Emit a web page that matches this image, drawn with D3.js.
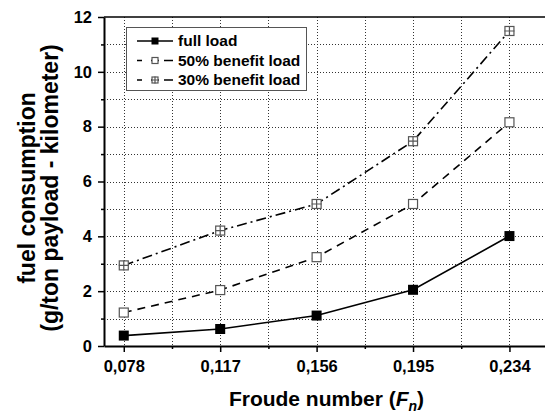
<!DOCTYPE html>
<html>
<head>
<meta charset="utf-8">
<script src="https://cdn.jsdelivr.net/npm/d3@7"></script>
<style>
  body { margin: 0; background: #fff; }
  text { font-family: "Liberation Sans", Arial, sans-serif; font-weight: bold; }
</style>
</head>
<body>
<div id="chart"></div>
<script>
// data
var froude = [0.078, 0.117, 0.156, 0.195, 0.234];
var xTickLabels = ["0,078", "0,117", "0,156", "0,195", "0,234"];
var xMinorTicks = [0.0975, 0.1365, 0.1755, 0.2145];
var yTicks = [0, 2, 4, 6, 8, 10, 12];
var yMinorTicks = [1, 3, 5, 7, 9, 11];
var fullLoad = [0.38, 0.62, 1.11, 2.05, 4.01];
var benefit50 = [1.22, 2.04, 3.24, 5.18, 8.16];
var benefit30 = [2.94, 4.21, 5.18, 7.47, 11.49];
var seriesNames = ["full load", "50% benefit load", "30% benefit load"];

var width = 545, height = 413;
var plotLeft = 104, plotRight = 549, plotTop = 17, plotBottom = 346;

var svg = d3.select("#chart").append("svg")
    .attr("width", width)
    .attr("height", height);

var x = d3.scaleLinear().domain([0.07, 0.25]).range([plotLeft, plotRight]);
var y = d3.scaleLinear().domain([0, 12]).range([plotBottom, plotTop]);

// dotted grid
var grid = svg.append("g")
    .attr("stroke", "#333")
    .attr("stroke-width", 1)
    .attr("stroke-dasharray", "1,2");
grid.selectAll(".vg")
    .data(froude.concat(xMinorTicks))
    .enter().append("line")
    .attr("x1", function (d) { return Math.round(x(d)) + 0.5; })
    .attr("x2", function (d) { return Math.round(x(d)) + 0.5; })
    .attr("y1", plotTop)
    .attr("y2", plotBottom);
grid.selectAll(".hg")
    .data(d3.range(1, 12))
    .enter().append("line")
    .attr("x1", plotLeft)
    .attr("x2", plotRight)
    .attr("y1", function (d) { return Math.round(y(d)) + 0.5; })
    .attr("y2", function (d) { return Math.round(y(d)) + 0.5; });

// top frame
svg.append("line")
    .attr("x1", plotLeft).attr("x2", plotRight)
    .attr("y1", plotTop).attr("y2", plotTop)
    .attr("stroke", "#000").attr("stroke-width", 1.5);

// axes
var xAxis = svg.append("g")
    .attr("transform", "translate(0," + plotBottom + ")")
    .call(d3.axisBottom(x).tickValues(froude)
        .tickFormat(function (d, i) { return xTickLabels[i]; })
        .tickSizeInner(6).tickSizeOuter(0).tickPadding(8));
xAxis.selectAll(".tick text").style("font-size", "16.5px").style("font-weight", "bold");
xAxis.select(".domain").attr("stroke-width", 2);
xAxis.selectAll(".tick line").attr("stroke-width", 1.5);
svg.append("g")
    .attr("transform", "translate(0," + plotBottom + ")")
    .call(d3.axisBottom(x).tickValues(xMinorTicks).tickFormat("").tickSizeInner(3).tickSizeOuter(0))
    .call(function (g) { g.select(".domain").remove(); })
    .selectAll("line").attr("stroke-width", 1.5);

var yAxis = svg.append("g")
    .attr("transform", "translate(" + plotLeft + ",0)")
    .call(d3.axisLeft(y).tickValues(yTicks).tickSizeInner(6).tickSizeOuter(0).tickPadding(6));
yAxis.selectAll(".tick text").style("font-size", "16.5px").style("font-weight", "bold");
yAxis.select(".domain").attr("stroke-width", 2);
yAxis.selectAll(".tick line").attr("stroke-width", 1.5);
svg.append("g")
    .attr("transform", "translate(" + plotLeft + ",0)")
    .call(d3.axisLeft(y).tickValues(yMinorTicks).tickFormat("").tickSizeInner(3).tickSizeOuter(0))
    .call(function (g) { g.select(".domain").remove(); })
    .selectAll("line").attr("stroke-width", 1.5);

// axis titles
var xt = svg.append("text")
    .attr("x", (plotLeft + plotRight) / 2)
    .attr("y", 406)
    .attr("text-anchor", "middle")
    .style("font-size", "21px");
xt.append("tspan").text("Froude number (");
xt.append("tspan").attr("font-style", "italic").text("F");
xt.append("tspan").attr("font-style", "italic").attr("dy", 5).style("font-size", "14px").text("n");
xt.append("tspan").attr("dy", -5).text(")");

var yt = svg.append("text")
    .attr("transform", "translate(0," + 188 + ") rotate(-90)")
    .attr("text-anchor", "middle")
    .style("font-size", "23px");
yt.append("tspan").attr("x", 0).attr("y", 35).text("fuel consumption");
yt.append("tspan").attr("x", 0).attr("y", 58).text("(g/ton payload - kilometer)");

// series
var series = [
    {name: seriesNames[0], values: fullLoad, dash: null, marker: "filled"},
    {name: seriesNames[1], values: benefit50, dash: "8,6", marker: "open"},
    {name: seriesNames[2], values: benefit30, dash: "10,4,2,4", marker: "cross"}
];

var line = d3.line()
    .x(function (d, i) { return x(froude[i]); })
    .y(function (d) { return y(d); });

svg.selectAll(".series")
    .data(series)
    .enter().append("path")
    .attr("d", function (d) { return line(d.values); })
    .attr("fill", "none")
    .attr("stroke", "#000")
    .attr("stroke-width", 1.6)
    .attr("stroke-dasharray", function (d) { return d.dash; });

function drawMarker(g, type, cx, cy, s) {
    if (type === "filled") {
        g.append("rect")
            .attr("x", cx - s / 2).attr("y", cy - s / 2)
            .attr("width", s).attr("height", s)
            .attr("fill", "#000");
    } else {
        g.append("rect")
            .attr("x", cx - s / 2 + 0.5).attr("y", cy - s / 2 + 0.5)
            .attr("width", s - 1).attr("height", s - 1)
            .attr("fill", "#fff").attr("stroke", "#555").attr("stroke-width", 1.2);
        if (type === "cross") {
            g.append("path")
                .attr("d", "M" + cx + "," + (cy - s / 2) + "V" + (cy + s / 2) +
                    "M" + (cx - s / 2) + "," + cy + "H" + (cx + s / 2))
                .attr("stroke", "#555").attr("stroke-width", 1.2);
        }
    }
}

series.forEach(function (s) {
    var g = svg.append("g");
    s.values.forEach(function (v, i) {
        drawMarker(g, s.marker, x(froude[i]), y(v), 10);
    });
});

// legend
var legend = svg.append("g");
legend.append("rect")
    .attr("x", 126.5).attr("y", 27.5)
    .attr("width", 180).attr("height", 63)
    .attr("fill", "#fff").attr("stroke", "#555").attr("stroke-width", 1);
series.forEach(function (s, i) {
    var cy = 41 + i * 19.5;
    legend.append("line")
        .attr("x1", 137).attr("x2", 173)
        .attr("y1", cy).attr("y2", cy)
        .attr("stroke", "#000").attr("stroke-width", 1.6)
        .attr("stroke-dasharray", s.dash ? "5,9,8" : null);
    drawMarker(legend, s.marker, 155, cy, 7);
    legend.append("text")
        .attr("x", 178).attr("y", cy + 5)
        .style("font-size", "15.5px")
        .text(s.name);
});
</script>
</body>
</html>
